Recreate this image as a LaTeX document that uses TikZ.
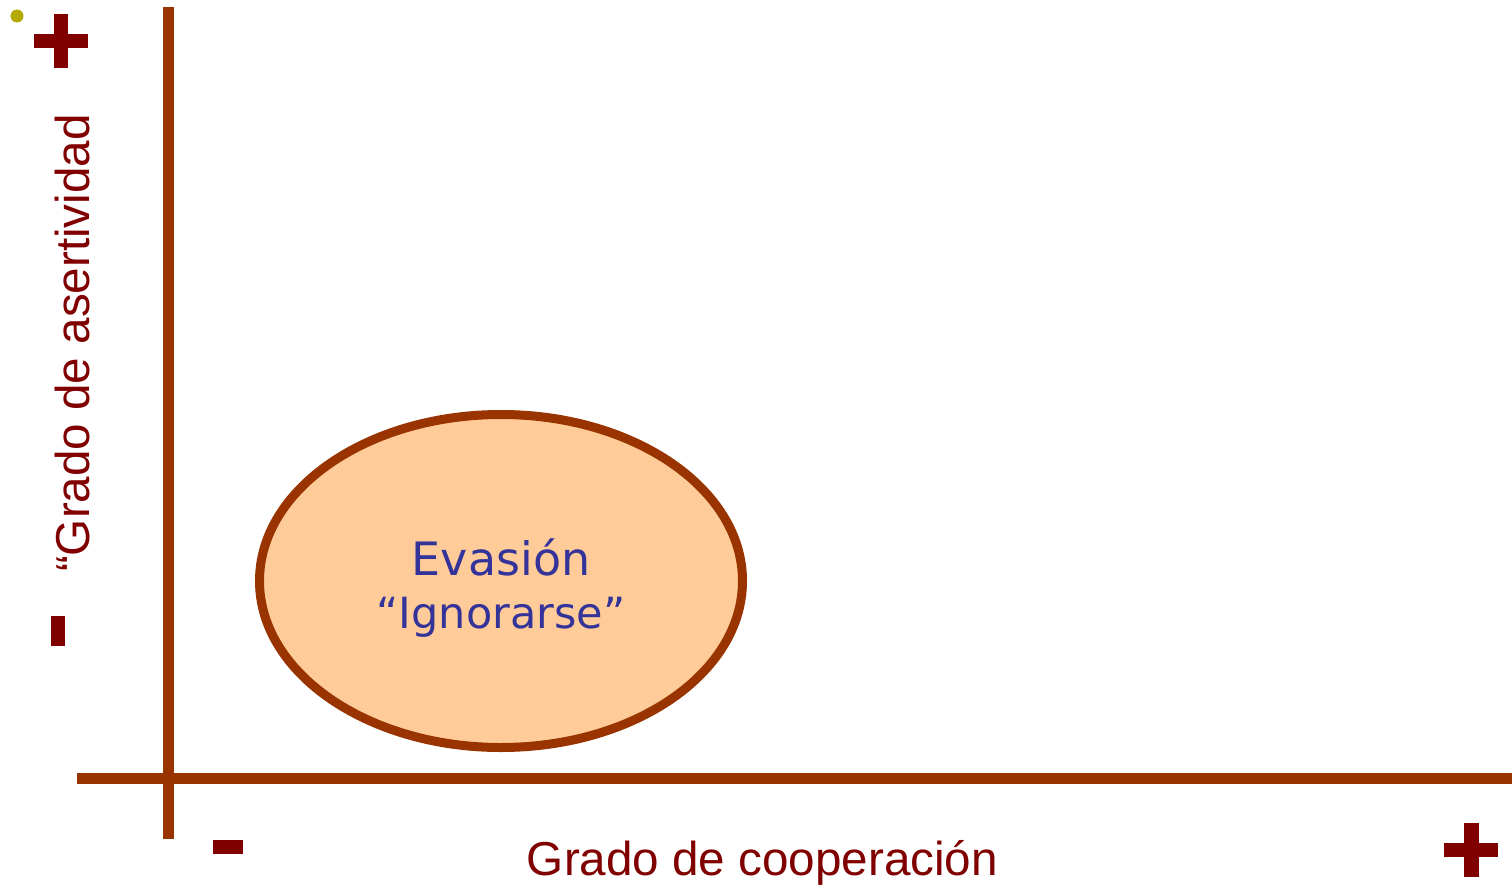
\documentclass[tikz,border=0pt]{standalone}
\usepackage{fontspec}
\setmainfont{Liberation Sans}
\newfontfamily\verd{DejaVu Sans}
\usetikzlibrary{shapes.geometric}
\definecolor{axisc}{HTML}{993300}
\definecolor{darkred}{HTML}{800000}
\definecolor{ellfill}{HTML}{FFCC99}
\definecolor{evtext}{HTML}{333399}
\definecolor{dotc}{RGB}{178,170,0}
\tikzset{
  axisline/.style={draw=axisc, line width=11pt},
  signbar/.style={fill=darkred, draw=none},
  axislabel/.style={text=darkred, inner sep=0pt, anchor=base, font=\fontsize{47.6}{50}\selectfont},
  evlabel/.style={text=evtext, inner sep=0pt, anchor=base},
}
\begin{document}
\begin{tikzpicture}[x=1pt, y=-1pt]
\useasboundingbox (0,0) rectangle (1512,888);
% axes
\coordinate (vtop) at (168.5,7);
\coordinate (vbot) at (168.5,839);
\coordinate (hleft) at (77,778.5);
\coordinate (hright) at (1512,778.5);
\draw[axisline] (vtop) -- (vbot);
\draw[axisline] (hleft) -- (hright);
% ellipse
\node[ellipse, draw=axisc, fill=ellfill, line width=9pt, minimum width=483pt, minimum height=333pt, inner sep=0pt] (ev) at (501,581) {};
\node[evlabel, font=\verd\fontsize{46}{50}\selectfont] (evname) at (501,575) {Evasión};
\node[evlabel, font=\verd\fontsize{43}{48}\selectfont] (evsub) at (501,628) {“Ignorarse”};
% axis labels
\node[axislabel] (xlab) at (762.5,875) {Grado de cooperación};
\node[axislabel, rotate=90] (ylab) at (89,343) {“Grado de asertividad};
% signs
\fill[signbar] (34,34) rectangle (88,48);
\fill[signbar] (54,14) rectangle (68,68);
\fill[signbar] (51,616) rectangle (65,646);
\fill[signbar] (213,840) rectangle (243,854);
\fill[signbar] (1444,843) rectangle (1498,857);
\fill[signbar] (1464,823) rectangle (1479,877);
% dot
\fill[dotc] (17,16) circle (6.5pt);
\end{tikzpicture}
\end{document}
